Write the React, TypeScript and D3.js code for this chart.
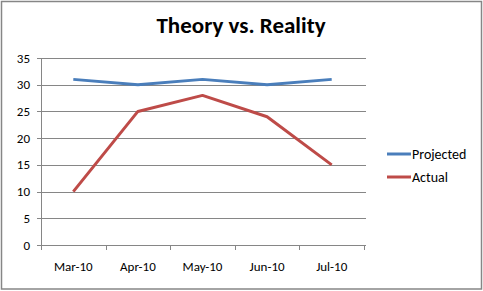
import React from "react";
import * as d3 from "d3";

const categories = ["Mar-10", "Apr-10", "May-10", "Jun-10", "Jul-10"];
const projected = [31, 30, 31, 30, 31];
const actual = [10, 25, 28, 24, 15];
const yTicks = [0, 5, 10, 15, 20, 25, 30, 35];
const seriesNames = ["Projected", "Actual"];
const seriesColors = ["#4A7EBB", "#BE4B48"];

export default function App() {
  const W = 483, H = 291;
  const left = 41, right = 364, top = 58, bottom = 245;
  const x = d3.scaleBand().domain(categories).range([left, right]);
  const y = d3.scaleLinear().domain([0, 35]).range([bottom, top]);
  const line = d3
    .line<number>()
    .x((_, i) => (x(categories[i]) as number) + x.bandwidth() / 2)
    .y((d) => y(d));
  const series = [projected, actual];
  const font = "Carlito, Lato, 'Open Sans', sans-serif";
  const tickXs = [...categories.map((c) => x(c) as number), right];
  return (
    <svg
      width={W}
      height={H}
      style={{ position: "absolute", left: 0, top: 0, background: "#fff" }}
      fontFamily={font}
    >
      <rect x={1.5} y={1.5} width={480} height={287.5} fill="#fff" stroke="#868686" strokeWidth={1.5} />
      <text x={241} y={33} textAnchor="middle" fontSize={23} fontWeight="bold" fill="#000">
        Theory vs. Reality
      </text>
      {yTicks.map((t) => (
        <g key={t}>
          <line x1={left - 4} x2={right + 2} y1={Math.round(y(t)) + 0.5} y2={Math.round(y(t)) + 0.5} stroke="#868686" strokeWidth={1} />
          <text x={30} y={y(t) + 4.5} textAnchor="end" fontSize={13} fill="#000">
            {t}
          </text>
        </g>
      ))}
      <line x1={left + 0.5} x2={left + 0.5} y1={top} y2={bottom} stroke="#868686" />
      {tickXs.map((tx, i) => (
        <line key={i} x1={Math.round(tx) + 0.5} x2={Math.round(tx) + 0.5} y1={bottom} y2={bottom + 5} stroke="#868686" />
      ))}
      {categories.map((c) => (
        <text key={c} x={(x(c) as number) + x.bandwidth() / 2} y={271} textAnchor="middle" fontSize={13} fill="#000">
          {c}
        </text>
      ))}
      {series.map((s, i) => (
        <path key={i} d={line(s) || ""} fill="none" stroke={seriesColors[i]} strokeWidth={3} strokeLinejoin="round" />
      ))}
      {seriesNames.map((n, i) => (
        <g key={n}>
          <line x1={387} x2={411} y1={154 + i * 23} y2={154 + i * 23} stroke={seriesColors[i]} strokeWidth={3} />
          <text x={412} y={158.5 + i * 23} fontSize={14} fill="#000">
            {n}
          </text>
        </g>
      ))}
    </svg>
  );
}
